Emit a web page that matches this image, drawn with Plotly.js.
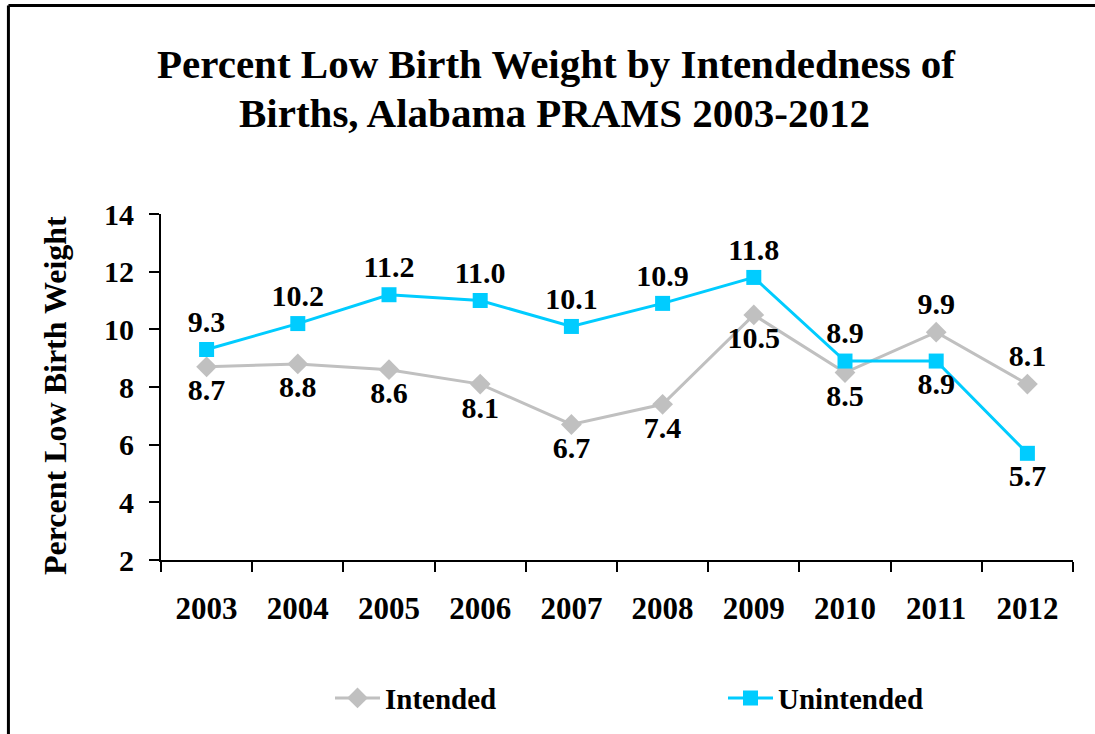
<!DOCTYPE html>
<html>
<head>
<meta charset="utf-8">
<script src="https://cdn.plot.ly/plotly-3.0.1.min.js"></script>
<style>html,body{margin:0;padding:0;background:#fff;}#chart{width:1095px;height:734px;}</style>
</head>
<body>
<div id="chart"></div>
<script>
const years = ["2003","2004","2005","2006","2007","2008","2009","2010","2011","2012"];
const intended = [8.7, 8.8, 8.6, 8.1, 6.7, 7.4, 10.5, 8.5, 9.9, 8.1];
const unintended = [9.3, 10.2, 11.2, 11.0, 10.1, 10.9, 11.8, 8.9, 8.9, 5.7];
const intendedLabelPos = ["bottom center","bottom center","bottom center","bottom center","bottom center","bottom center","bottom center","bottom center","top center","top center"];
const unintendedLabelPos = ["top center","top center","top center","top center","top center","top center","top center","top center","bottom center","bottom center"];
const titleLines = ["Percent Low Birth Weight by Intendedness of", "Births, Alabama PRAMS 2003-2012"];
const yTitle = "Percent Low Birth Weight";

const serif = "Liberation Serif, Times New Roman, serif";
const labelFont = {family: serif, size: 30, color: "#000", weight: "bold"};

const traces = [
  {
    x: years, y: intended, name: "Intended", type: "scatter", mode: "lines+markers+text",
    line: {color: "#C0C0C0", width: 3},
    marker: {symbol: "diamond", size: 16, color: "#C0C0C0"},
    text: intended.map(v => v.toFixed(1)), textposition: intendedLabelPos,
    textfont: labelFont, cliponaxis: false, legend: "legend"
  },
  {
    x: years, y: unintended, name: "Unintended", type: "scatter", mode: "lines+markers+text",
    line: {color: "#00CCFF", width: 3},
    marker: {symbol: "square", size: 15, color: "#00CCFF"},
    text: unintended.map(v => v.toFixed(1)), textposition: unintendedLabelPos,
    textfont: labelFont, cliponaxis: false, legend: "legend2"
  }
];

const titleFont = {family: serif, size: 41, color: "#000", weight: "bold"};
const legendFont = {family: serif, size: 29, color: "#000", weight: "bold"};

const layout = {
  width: 1095, height: 734,
  margin: {l: 161, r: 22, t: 214, b: 174, autoexpand: false},
  paper_bgcolor: "#fff", plot_bgcolor: "#fff",
  showlegend: true,
  xaxis: {
    type: "category", range: [-0.5, 9.5],
    showline: true, linecolor: "#000", linewidth: 2,
    ticks: "outside", ticklen: 10, tickwidth: 2, tickcolor: "#000",
    tickson: "boundaries", showgrid: false, zeroline: false,
    ticklabelstandoff: 20,
    tickfont: {family: serif, size: 31, color: "#000", weight: "bold"}
  },
  yaxis: {
    range: [2, 14], dtick: 2, tick0: 2,
    showline: true, linecolor: "#000", linewidth: 2,
    ticks: "outside", ticklen: 10, tickwidth: 2, tickcolor: "#000",
    showgrid: false, zeroline: false,
    ticklabelstandoff: 9,
    tickfont: {family: serif, size: 30, color: "#000", weight: "bold"}
  },
  legend: {
    orientation: "h", x: (330 - 161) / 912, xanchor: "left", y: -0.399, yanchor: "middle",
    itemwidth: 45, font: legendFont, bgcolor: "rgba(0,0,0,0)"
  },
  legend2: {
    orientation: "h", x: (723 - 161) / 912, xanchor: "left", y: -0.399, yanchor: "middle",
    itemwidth: 45, font: legendFont, bgcolor: "rgba(0,0,0,0)"
  },
  annotations: [
    {text: titleLines[0], xref: "paper", yref: "paper", x: 0.434, y: 1.4335, xanchor: "center", yanchor: "middle", showarrow: false, font: titleFont},
    {text: titleLines[1], xref: "paper", yref: "paper", x: 0.432, y: 1.2905, xanchor: "center", yanchor: "middle", showarrow: false, font: titleFont},
    {text: yTitle, xref: "paper", yref: "paper", x: -0.1162, y: 0.474, xanchor: "center", yanchor: "middle", textangle: -90, showarrow: false,
     font: {family: serif, size: 32, color: "#000", weight: "bold"}}
  ],
  shapes: [
    {type: "line", xref: "paper", yref: "paper", x0: -0.1673, x1: 1.1, y0: 1.6026, y1: 1.6026, line: {color: "#000", width: 3}},
    {type: "line", xref: "paper", yref: "paper", x0: -0.1673, x1: -0.1673, y0: 1.6026, y1: -0.6, line: {color: "#000", width: 3}}
  ]
};

Plotly.newPlot("chart", traces, layout, {displayModeBar: false, staticPlot: true});
</script>
</body>
</html>
